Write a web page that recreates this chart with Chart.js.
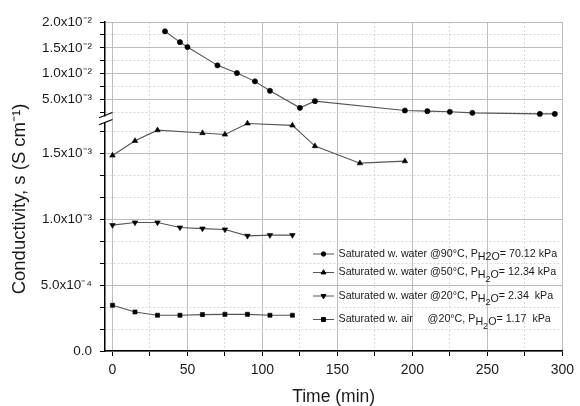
<!DOCTYPE html>
<html><head><meta charset="utf-8">
<script src="https://cdn.jsdelivr.net/npm/chart.js@4.4.0/dist/chart.umd.min.js"></script>
<style>html,body{margin:0;padding:0;background:#fff}#wrap{width:580px;height:406px;position:relative}</style>
</head><body><div id="wrap"><canvas id="c"></canvas></div>
<script>
const FONT = '"Liberation Sans", Arial, sans-serif';

// ---- Data (time in min, conductivity in S cm^-1) ----
const time90 = [35, 45, 50, 70, 83, 95, 105, 125, 135, 195, 210, 225, 240, 285, 295];
const cond90 = [0.0182, 0.0161, 0.01515, 0.0116, 0.0101, 0.0085, 0.00667, 0.00337, 0.00467, 0.00286, 0.00273, 0.0026, 0.0024, 0.0022, 0.0022];
const time50 = [0, 15, 30, 60, 75, 90, 120, 135, 165, 195];
const cond50 = [0.001482, 0.001593, 0.001674, 0.001652, 0.001641, 0.001725, 0.001710, 0.001553, 0.001424, 0.001439];
const time20 = [0, 15, 30, 45, 60, 75, 90, 105, 120];
const cond20 = [0.000954, 0.000974, 0.000974, 0.000936, 0.000928, 0.000921, 0.000873, 0.000878, 0.000878];
const timeAir = [0, 15, 30, 45, 60, 75, 90, 105, 120];
const condAir = [0.000347, 0.000296, 0.000271, 0.000271, 0.000276, 0.000278, 0.000278, 0.000271, 0.000271];

// ---- Legend texts ----
const legendText = ['Saturated w. water @90°C, P', 'Saturated w. water @50°C, P', 'Saturated w. water @20°C, P', 'Saturated w. air     @20°C, P'];
const legendUnits = ['= 70.12 kPa', '= 12.34 kPa', '= 2.34  kPa', '= 1.17  kPa'];

// ---- Ticks ----
const xMajor = [0, 50, 100, 150, 200, 250, 300];
const xMinor = [25, 75, 125, 175, 225, 275];
const xLabels = ['0', '50', '100', '150', '200', '250', '300'];
const upMajor = [0.005, 0.01, 0.015, 0.02];
const upMinor = [0.0025, 0.0075, 0.0125, 0.0175];
const upLabels = ['5.0x10⁻³', '1.0x10⁻²', '1.5x10⁻²', '2.0x10⁻²'];
const loMajor = [0, 0.0005, 0.001, 0.0015];
const loMinor = [0.000166667, 0.000333333, 0.000666667, 0.000833333, 0.00116667, 0.00133333, 0.00166667];
const loLabels = ['0.0', '5.0x10⁻⁴', '1.0x10⁻³', '1.5x10⁻³'];

const xTitle = 'Time (min)';
const yTitle = 'Conductivity, s (S cm⁻¹)';

function pts(t, v) { return t.map((x, i) => ({x: x, y: v[i]})); }
function idxOf(arr, v) { return arr.findIndex(a => Math.abs(a - v) <= Math.abs(a) * 1e-6 + 1e-12); }

function buildTicks(major, minor) {
  return (scale) => { scale.ticks = major.concat(minor).sort((a, b) => a - b).map(v => ({value: v})); };
}
function labelCb(major, labels) {
  return (value) => { const i = idxOf(major, value); return i >= 0 ? labels[i] : ''; };
}
function gridCfg(major) {
  return {
    color: (c) => (c.tick && idxOf(major, c.tick.value) >= 0) ? '#bdbdbd' : '#d8d8d8',
    lineWidth: 1,
    tickColor: '#000',
    tickLength: 5,
    tickWidth: 1
  };
}
function borderCfg(major) {
  return {
    display: true, color: '#000', width: 1.5,
    dash: (c) => (c.tick && idxOf(major, c.tick.value) < 0) ? [2, 2] : []
  };
}

const common = {borderColor: '#555', borderWidth: 1.1, pointBackgroundColor: '#000', pointBorderColor: '#000', pointRadius: 2.6, pointBorderWidth: 0.6, tension: 0, fill: false};

const datasets = [
  Object.assign({label: legendText[0] + 'H2O' + legendUnits[0], data: pts(time90, cond90), yAxisID: 'yUp', pointStyle: 'circle', pointRotation: 0}, common),
  Object.assign({label: legendText[1] + 'H2O' + legendUnits[1], data: pts(time50, cond50), yAxisID: 'yLo', pointStyle: 'triangle', pointRotation: 0}, common, {pointRadius: 3.2}),
  Object.assign({label: legendText[2] + 'H2O' + legendUnits[2], data: pts(time20, cond20), yAxisID: 'yLo', pointStyle: 'triangle', pointRotation: 180}, common, {pointRadius: 3.2}),
  Object.assign({label: legendText[3] + 'H2O' + legendUnits[3], data: pts(timeAir, condAir), yAxisID: 'yLo', pointStyle: 'rect', pointRotation: 0}, common, {pointRadius: 2.9})
];

const legendPlugin = {
  id: 'customLegend',
  afterDatasetsDraw(chart) {
    const ctx = chart.ctx;
    const rowsY = [254, 272.5, 296, 319.5];
    const x0 = 313, x1 = 334, xt = 338.5;
    ctx.save();
    chart.data.datasets.forEach((ds, i) => {
      const y = rowsY[i];
      ctx.strokeStyle = ds.borderColor; ctx.lineWidth = 1; ctx.setLineDash([]);
      ctx.beginPath(); ctx.moveTo(x0, y); ctx.lineTo(x1, y); ctx.stroke();
      ctx.fillStyle = '#000'; ctx.strokeStyle = '#000';
      Chart.helpers.drawPoint(ctx, {pointStyle: ds.pointStyle, radius: ds.pointStyle === 'circle' ? 2.2 : 2.8, rotation: ds.pointRotation, borderWidth: 0.6}, (x0 + x1) / 2, y);
      ctx.fillStyle = '#1a1a1a';
      ctx.textBaseline = 'middle'; ctx.textAlign = 'left';
      ctx.font = '10.7px ' + FONT;
      let x = xt;
      ctx.fillText(legendText[i], x, y); x += ctx.measureText(legendText[i]).width;
      if (i === 0) {
        ctx.fillText('H2O', x, y + 3); x += ctx.measureText('H2O').width;
      } else {
        ctx.fillText('H', x, y + 3); x += ctx.measureText('H').width;
        ctx.font = '9px ' + FONT;
        ctx.fillText('2', x, y + 7); x += ctx.measureText('2').width;
        ctx.font = '10.7px ' + FONT;
        ctx.fillText('O', x, y + 3); x += ctx.measureText('O').width;
      }
      ctx.fillText(legendUnits[i], x, y);
    });
    ctx.restore();
  }
};

const decoPlugin = {
  id: 'deco',
  afterDraw(chart) {
    const ctx = chart.ctx;
    ctx.save();
    // axis break
    ctx.fillStyle = '#fff';
    ctx.fillRect(102, 116.5, 6, 5.5);
    ctx.strokeStyle = '#000'; ctx.lineWidth = 1.2;
    ctx.beginPath(); ctx.moveTo(99, 117.8); ctx.lineTo(112.5, 112.5); ctx.stroke();
    ctx.beginPath(); ctx.moveTo(99, 124.8); ctx.lineTo(112.5, 119.5); ctx.stroke();
    // y title
    ctx.translate(20, 199); ctx.rotate(-Math.PI / 2);
    ctx.fillStyle = '#1a1a1a';
    ctx.font = '18.5px ' + FONT; ctx.textAlign = 'center'; ctx.textBaseline = 'middle';
    ctx.fillText(yTitle, 0, 0);
    ctx.restore();
  }
};

new Chart(document.getElementById('c'), {
  type: 'line',
  data: {datasets: datasets},
  options: {
    responsive: true, maintainAspectRatio: false, animation: false,
    layout: {padding: {top: 22, right: 13, bottom: 0, left: 0}},
    plugins: {legend: {display: false}, tooltip: {enabled: false}},
    scales: {
      x: {
        type: 'linear', min: -5, max: 300, position: 'bottom',
        afterBuildTicks: buildTicks(xMajor, xMinor),
        afterFit: (s) => { s.height = 55; },
        ticks: {callback: labelCb(xMajor, xLabels), autoSkip: false, maxRotation: 0, padding: 6, color: '#1a1a1a', font: {family: FONT, size: 14}},
        grid: gridCfg(xMajor), border: borderCfg(xMajor),
        title: {display: true, text: xTitle, color: '#1a1a1a', font: {family: FONT, size: 17.5, lineHeight: 1}, padding: {top: 0, bottom: 0}}
      },
      yUp: {
        type: 'linear', position: 'left', stack: 'ybroken', stackWeight: 95.5, weight: 1,
        min: 0.0015, max: 0.02,
        afterBuildTicks: buildTicks(upMajor, upMinor),
        afterFit: (s) => { s.width = 105; },
        ticks: {callback: labelCb(upMajor, upLabels), autoSkip: false, padding: 8, color: '#1a1a1a', font: {family: FONT, size: 13.5}},
        grid: gridCfg(upMajor), border: borderCfg(upMajor)
      },
      yLo: {
        type: 'linear', position: 'left', stack: 'ybroken', stackWeight: 233.5, weight: 0,
        min: 0, max: 0.00177,
        afterBuildTicks: buildTicks(loMajor, loMinor),
        afterFit: (s) => { s.width = 105; },
        ticks: {callback: labelCb(loMajor, loLabels), autoSkip: false, padding: 8, color: '#1a1a1a', font: {family: FONT, size: 13.5}},
        grid: gridCfg(loMajor), border: borderCfg(loMajor)
      }
    }
  },
  plugins: [legendPlugin, decoPlugin]
});
</script></body></html>
